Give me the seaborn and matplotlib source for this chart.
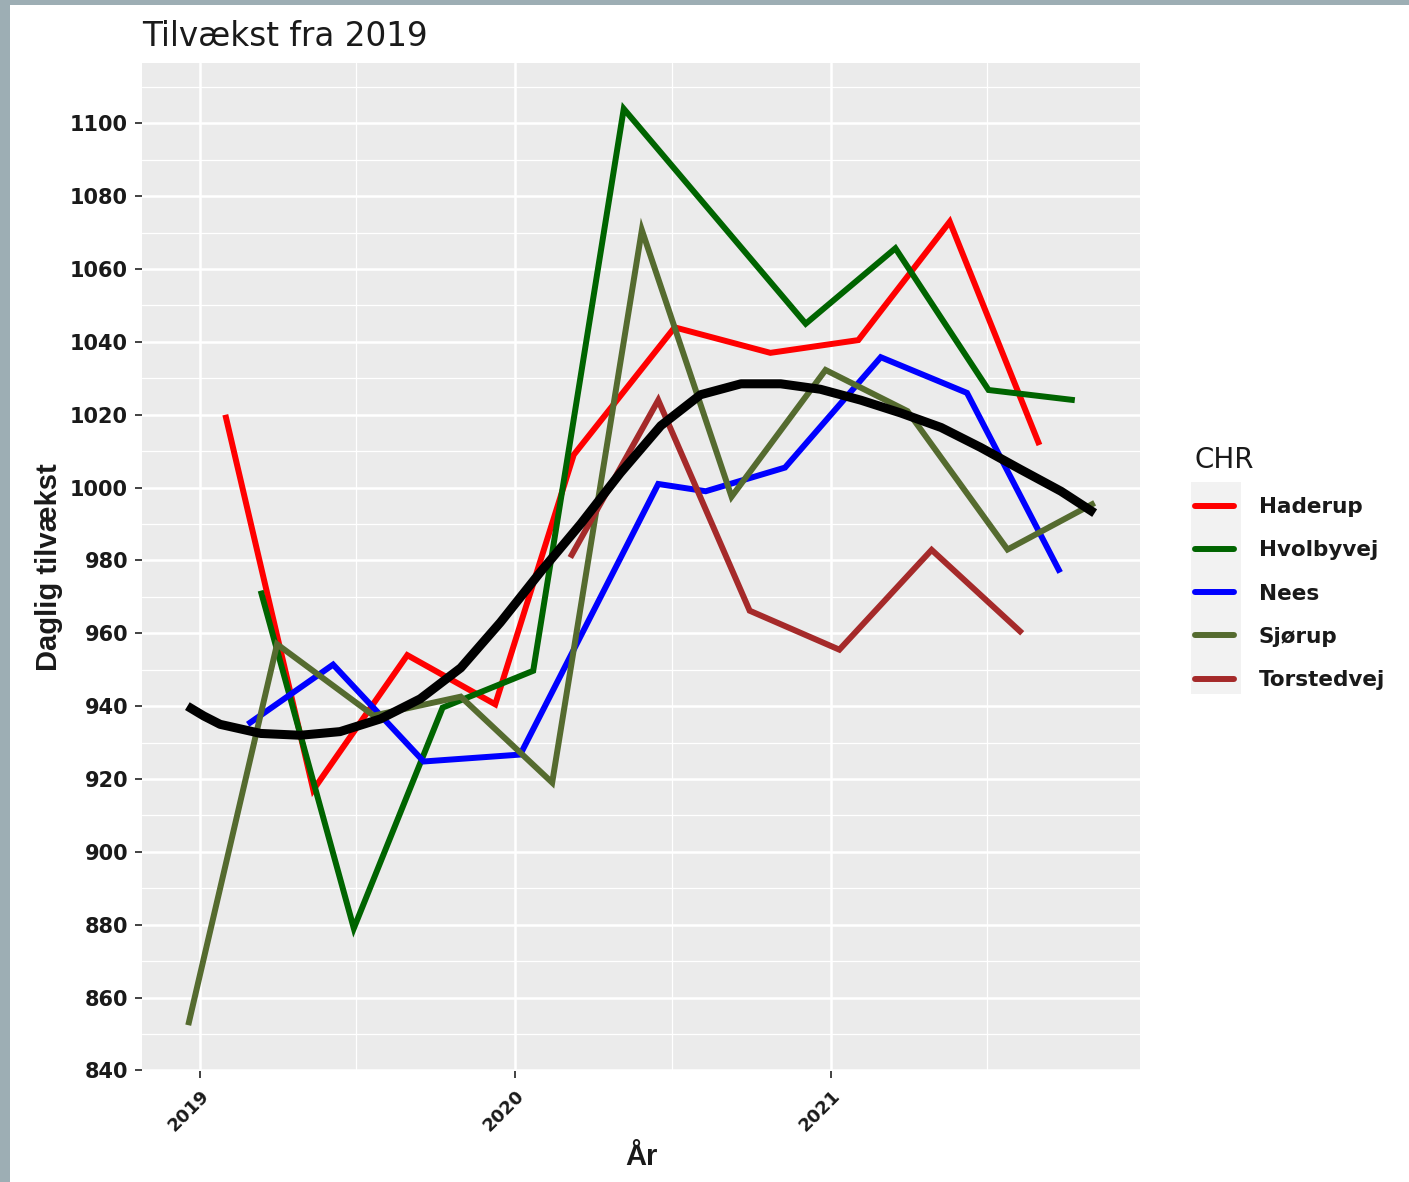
import pandas as pd
import matplotlib.pyplot as plt
import matplotlib.dates as mdates
from matplotlib.ticker import MultipleLocator
from matplotlib.patches import Rectangle
from matplotlib.lines import Line2D
import seaborn as sns


# værdier
haderup_dates = ["2019-01-30", "2019-05-12", "2019-08-29", "2019-12-09", "2020-03-09",
                 "2020-07-04", "2020-10-23", "2021-02-02", "2021-05-19", "2021-08-31"]
haderup_vals = [1020, 917, 954, 940.5, 1009, 1044, 1037, 1040.5, 1073, 1011.7]

hvolbyvej_dates = ["2019-03-12", "2019-06-28", "2019-10-09", "2020-01-22", "2020-05-06",
                   "2020-12-03", "2021-03-17", "2021-07-03", "2021-10-11"]
hvolbyvej_vals = [971.7, 879, 939.6, 949.7, 1104, 1045, 1065.7, 1026.8, 1024]

nees_dates = ["2019-02-25", "2019-06-04", "2019-09-17", "2020-01-07", "2020-06-15",
              "2020-08-09", "2020-11-09", "2021-02-28", "2021-06-08", "2021-09-24"]
nees_vals = [935, 951.4, 924.8, 926.7, 1001, 999, 1005.5, 1035.8, 1026, 976.7]

sjorup_dates = ["2018-12-18", "2019-03-31", "2019-07-21", "2019-10-30", "2020-02-13",
                "2020-05-27", "2020-09-08", "2020-12-26", "2021-03-31", "2021-07-25",
                "2021-11-03"]
sjorup_vals = [852.4, 957, 937.4, 942.6, 919, 1070.7, 997.5, 1032.3, 1021, 983, 995.8]

torstedvej_dates = ["2020-03-05", "2020-06-15", "2020-09-29", "2021-01-11", "2021-04-28",
                    "2021-08-11"]
torstedvej_vals = [980.8, 1024, 966.2, 955.5, 982.9, 960]

# glattet tendens (sort linje)
trend_dates = ["2018-12-17", "2019-01-05", "2019-01-24", "2019-03-12", "2019-04-27",
               "2019-06-12", "2019-07-29", "2019-09-13", "2019-10-30", "2019-12-15",
               "2020-01-31", "2020-03-17", "2020-05-02", "2020-06-18", "2020-08-03",
               "2020-09-19", "2020-11-04", "2020-12-20", "2021-02-05", "2021-03-23",
               "2021-05-09", "2021-06-24", "2021-08-09", "2021-09-25", "2021-11-03"]
trend_vals = [940, 937.3, 935, 932.5, 932, 933, 936.5, 942, 950.5, 963,
              977, 990, 1004, 1017, 1025.5, 1028.5, 1028.5, 1027, 1024, 1020.5,
              1016.5, 1011, 1005, 999, 993]

chr_names = ["Haderup", "Hvolbyvej", "Nees", "Sjørup", "Torstedvej"]
chr_colors = ["#FF0000", "#006400", "#0000FF", "#556B2F", "#A52A2A"]

series = {
    "Haderup": (haderup_dates, haderup_vals),
    "Hvolbyvej": (hvolbyvej_dates, hvolbyvej_vals),
    "Nees": (nees_dates, nees_vals),
    "Sjørup": (sjorup_dates, sjorup_vals),
    "Torstedvej": (torstedvej_dates, torstedvej_vals),
}
frames = []
for name, (d, v) in series.items():
    frames.append(pd.DataFrame({"date": pd.to_datetime(d), "value": v, "CHR": name}))
df = pd.concat(frames, ignore_index=True)
trend = pd.DataFrame({"date": pd.to_datetime(trend_dates), "value": trend_vals})

sns.set_theme(style="darkgrid", rc={"axes.facecolor": "#EBEBEB", "grid.color": "white"})
plt.rcParams["font.family"] = ["DejaVu Sans"]

W, H = 1409, 1182
fig = plt.figure(figsize=(W / 100, H / 100), dpi=100, facecolor="#9DAEB4")
fig.add_artist(Rectangle((10 / W, 0), 1, 1 - 5 / H, transform=fig.transFigure,
                         facecolor="white", edgecolor="none", zorder=-2))
# grå baggrund bag legend-nøglerne
fig.add_artist(Rectangle((1191 / W, 1 - 694 / H), 50 / W, 212 / H, transform=fig.transFigure,
                         facecolor="#F2F2F2", edgecolor="none", zorder=-1))

ax = fig.add_axes([142 / W, 1 - 1071 / H, (1140 - 142) / W, (1071 - 63) / H])

sns.lineplot(data=df, x="date", y="value", hue="CHR", hue_order=chr_names,
             palette=chr_colors, linewidth=4.3, estimator=None, legend=False, ax=ax,
             solid_joinstyle="miter", solid_capstyle="butt")
sns.lineplot(data=trend, x="date", y="value", color="black", linewidth=6.5,
             estimator=None, ax=ax, solid_capstyle="butt")

# ggplot-agtig udvidelse på 5%
xmin = min(df["date"].min(), trend["date"].min())
xmax = max(df["date"].max(), trend["date"].max())
xpad = (xmax - xmin) * 0.05
ax.set_xlim(xmin - xpad, xmax + xpad)
ymin, ymax = df["value"].min(), df["value"].max()
ypad = (ymax - ymin) * 0.05
ax.set_ylim(ymin - ypad, ymax + ypad)

ax.xaxis.set_major_locator(mdates.YearLocator())
ax.xaxis.set_major_formatter(mdates.DateFormatter("%Y"))
ax.xaxis.set_minor_locator(mdates.MonthLocator(bymonth=7))
ax.yaxis.set_major_locator(MultipleLocator(20))
ax.yaxis.set_minor_locator(MultipleLocator(10))

ax.grid(which="major", color="white", linewidth=1.8)
ax.grid(which="minor", color="white", linewidth=0.9)
for s in ax.spines.values():
    s.set_visible(False)

ax.tick_params(axis="both", which="major", length=5, width=1.3, color="#333333",
               labelcolor="#1A1A1A", bottom=True, left=True)
ax.tick_params(axis="both", which="minor", length=0)
ax.tick_params(axis="y", labelsize=15, pad=5)
ax.tick_params(axis="x", labelsize=13, pad=6)
for lbl in ax.get_yticklabels():
    lbl.set_fontweight("bold")
for lbl in ax.get_xticklabels():
    lbl.set_fontweight("bold")
    lbl.set_rotation(45)
    lbl.set_ha("right")
    lbl.set_rotation_mode("anchor")

ax.set_xlabel("År", fontsize=21, fontweight="bold", family="Liberation Sans",
              color="#1A1A1A", labelpad=6)
ax.set_ylabel("Daglig tilvækst", fontsize=21, fontweight="bold", family="Liberation Sans",
              color="#1A1A1A", labelpad=5)
ax.set_title("Tilvækst fra 2019", loc="left", fontsize=23.5, color="#1A1A1A", pad=12)

handles = [Line2D([], [], color=c, linewidth=4.3) for c in chr_colors]
leg = ax.legend(handles, chr_names, title="CHR", loc="upper left",
                bbox_to_anchor=(1195 / W, 1 - 446 / H), bbox_transform=fig.transFigure,
                frameon=False, borderpad=0, borderaxespad=0, handlelength=1.8,
                handletextpad=1.15, labelspacing=1.08, alignment="left",
                prop={"weight": "bold", "size": 15.5}, title_fontsize=20)
for t in leg.get_texts():
    t.set_color("#1A1A1A")
leg.get_title().set_color("#1A1A1A")

fig.savefig("out.png", dpi=100, facecolor=fig.get_facecolor())
